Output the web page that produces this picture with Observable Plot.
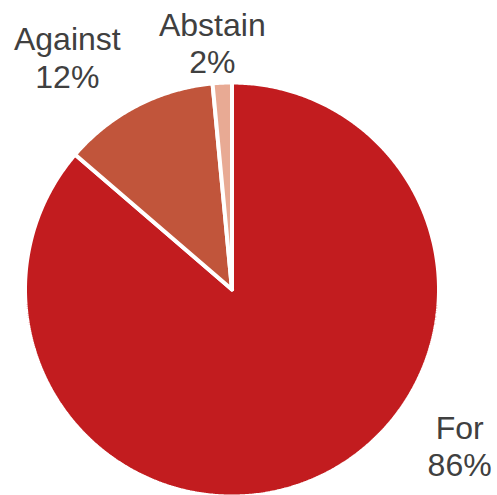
<!DOCTYPE html>
<html>
<head>
<meta charset="utf-8">
<script src="https://cdn.jsdelivr.net/npm/d3@7"></script>
<script src="https://cdn.jsdelivr.net/npm/@observablehq/plot@0.6"></script>
<style>
  html, body { margin: 0; padding: 0; background: #fff; }
</style>
</head>
<body>
<div id="chart"></div>
<script>
// ---- data ----
const categories = ["For", "Against", "Abstain"];
const shares = [86.3, 12.2, 1.5];    // percent (labels are rounded)
const colors = ["#C21C1F", "#C1553B", "#E8AA94"];

// ---- layout ----
const W = 497, H = 495;
const cx = 231.5, cy = 289, R = 207;

// slice angles (clockwise from 12 o'clock)
const total = d3.sum(shares);
let acc = 0;
const slices = categories.map((c, i) => {
  const a0 = acc / total * 2 * Math.PI;
  acc += shares[i];
  const a1 = acc / total * 2 * Math.PI;
  return {category: c, value: shares[i], a0, a1, mid: (a0 + a1) / 2};
});

// polygon points for each slice (unit circle coordinates)
const pts = [];
for (const s of slices) {
  pts.push({category: s.category, x: 0, y: 0});
  const n = Math.max(2, Math.ceil((s.a1 - s.a0) / (Math.PI / 360)));
  for (let k = 0; k <= n; k++) {
    const a = s.a0 + (s.a1 - s.a0) * k / n;
    pts.push({category: s.category, x: Math.sin(a), y: Math.cos(a)});
  }
  pts.push({category: s.category, x: 0, y: 0});
}

// label placement: outside along mid-angle, with pixel nudges
const nudge = {For: [124, -70], Against: [-50.5, -12], Abstain: [-8, 1]};
const labels = slices.map(s => ({
  category: s.category,
  text: `${s.category}\n${Math.round(s.value)}%`,
  x: 1.2 * Math.sin(s.mid) + nudge[s.category][0] / R,
  y: 1.2 * Math.cos(s.mid) - nudge[s.category][1] / R
}));

const chart = Plot.plot({
  width: W,
  height: H,
  margin: 0,
  x: {domain: [-1, 1], range: [cx - R, cx + R], axis: null},
  y: {domain: [-1, 1], range: [cy + R, cy - R], axis: null},
  color: {domain: categories, range: colors},
  style: {fontFamily: "'Liberation Sans', Arial, sans-serif", background: "#fff"},
  marks: [
    Plot.line(pts, {
      x: "x", y: "y", z: "category",
      fill: "category",
      stroke: "#fff",
      strokeWidth: 4,
      strokeLinejoin: "miter",
      curve: "linear"
    }),
    Plot.text(labels, {
      x: "x", y: "y", text: "text",
      fontSize: 32,
      lineHeight: 1.17,
      lineAnchor: "middle",
      textAnchor: "middle",
      fill: "#404040"
    })
  ]
});
document.getElementById("chart").appendChild(chart);
</script>
</body>
</html>
